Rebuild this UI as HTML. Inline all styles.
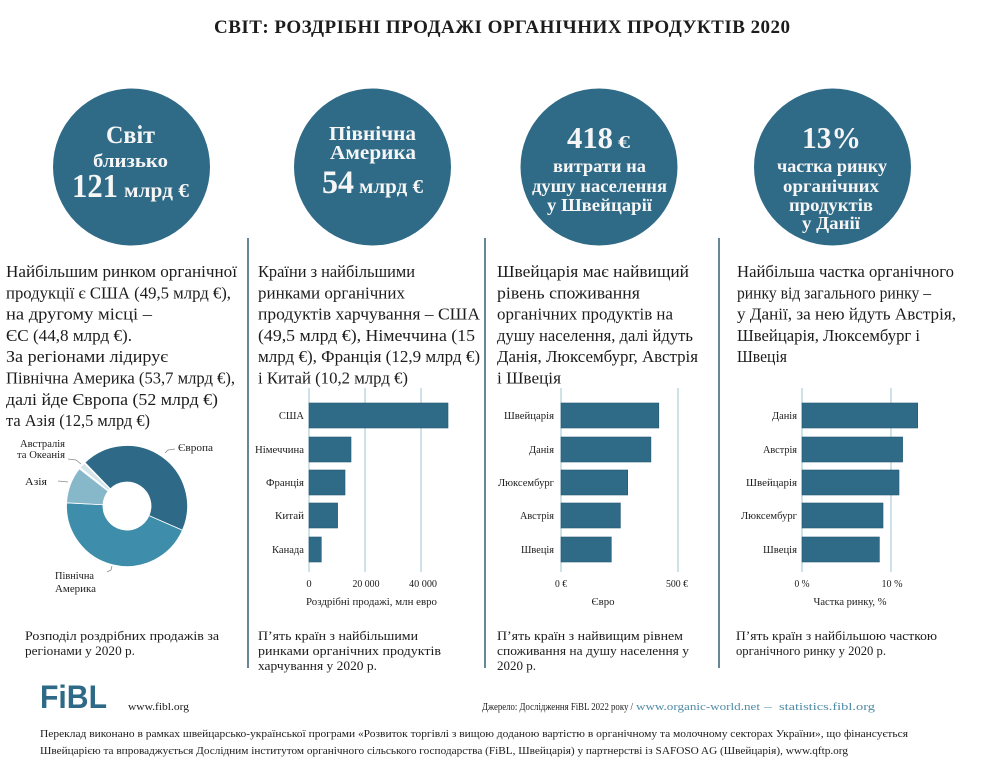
<!DOCTYPE html>
<html>
<head>
<meta charset="utf-8">
<style>
html,body{margin:0;padding:0;background:#fff;}
svg{display:block;}
text{font-family:"Liberation Serif","DejaVu Serif",serif;fill:#1c1c1c;}
.w{fill:#f6f6f6;font-weight:bold;}
.b{font-size:17px;}
.c{font-size:13px;}
.l{font-size:11px;}
.t{font-size:10.5px;}
.f{font-size:11px;}
.s{font-size:10px;}
</style>
</head>
<body>
<svg width="1000" height="759" viewBox="0 0 1000 759" xmlns="http://www.w3.org/2000/svg">
<rect width="1000" height="759" fill="#fff"/>

<!-- Title -->
<text x="214" y="33" font-size="19" font-weight="bold" textLength="576" lengthAdjust="spacing">СВІТ:  РОЗДРІБНІ  ПРОДАЖІ  ОРГАНІЧНИХ  ПРОДУКТІВ  2020</text>

<!-- Circles -->
<circle cx="131.5" cy="167" r="78.5" fill="#2f6a87"/>
<circle cx="372.5" cy="167" r="78.5" fill="#2f6a87"/>
<circle cx="599" cy="167" r="78.5" fill="#2f6a87"/>
<circle cx="832.5" cy="167" r="78.5" fill="#2f6a87"/>

<!-- Circle 1 -->
<text class="w" x="106" y="143" font-size="25" textLength="49" lengthAdjust="spacingAndGlyphs">Світ</text>
<text class="w" x="93" y="167" font-size="19" textLength="75" lengthAdjust="spacingAndGlyphs">близько</text>
<text class="w" x="72" y="197" font-size="34" textLength="46" lengthAdjust="spacingAndGlyphs">121</text>
<text class="w" x="124" y="197" font-size="20" textLength="65" lengthAdjust="spacingAndGlyphs">млрд €</text>

<!-- Circle 2 -->
<text class="w" x="329" y="140" font-size="20" textLength="87" lengthAdjust="spacingAndGlyphs">Північна</text>
<text class="w" x="330" y="159" font-size="20" textLength="86" lengthAdjust="spacingAndGlyphs">Америка</text>
<text class="w" x="322" y="193" font-size="33" textLength="32" lengthAdjust="spacingAndGlyphs">54</text>
<text class="w" x="359" y="193" font-size="20" textLength="64" lengthAdjust="spacingAndGlyphs">млрд €</text>

<!-- Circle 3 -->
<text class="w" x="567" y="148" font-size="31" textLength="46" lengthAdjust="spacingAndGlyphs">418</text>
<text class="w" x="618" y="148" font-size="18" textLength="12" lengthAdjust="spacingAndGlyphs">€</text>
<text class="w" x="553" y="172" font-size="18" textLength="93" lengthAdjust="spacingAndGlyphs">витрати на</text>
<text class="w" x="532" y="192" font-size="18" textLength="135" lengthAdjust="spacingAndGlyphs">душу населення</text>
<text class="w" x="547" y="211" font-size="18" textLength="105" lengthAdjust="spacingAndGlyphs">у Швейцарії</text>

<!-- Circle 4 -->
<text class="w" x="802" y="148" font-size="31" textLength="59" lengthAdjust="spacingAndGlyphs">13%</text>
<text class="w" x="777" y="172" font-size="18" textLength="110" lengthAdjust="spacingAndGlyphs">частка ринку</text>
<text class="w" x="783" y="192" font-size="18" textLength="96" lengthAdjust="spacingAndGlyphs">органічних</text>
<text class="w" x="789" y="211" font-size="18" textLength="84" lengthAdjust="spacingAndGlyphs">продуктів</text>
<text class="w" x="802" y="229" font-size="18" textLength="58" lengthAdjust="spacingAndGlyphs">у Данії</text>

<!-- Dividers -->
<g stroke="#56798b" stroke-width="1.8">
<line x1="248" y1="238" x2="248" y2="668"/>
<line x1="485" y1="238" x2="485" y2="668"/>
<line x1="719" y1="238" x2="719" y2="668"/>
</g>

<!-- Column 1 text -->
<text class="b" x="6" y="277" textLength="231" lengthAdjust="spacingAndGlyphs">Найбільшим ринком органічної</text>
<text class="b" x="6" y="298.3" textLength="225" lengthAdjust="spacingAndGlyphs">продукції є США (49,5 млрд €),</text>
<text class="b" x="6" y="319.6" textLength="146" lengthAdjust="spacingAndGlyphs">на другому місці –</text>
<text class="b" x="6" y="340.9" textLength="126" lengthAdjust="spacingAndGlyphs">ЄС (44,8 млрд €).</text>
<text class="b" x="6" y="362.2" textLength="162" lengthAdjust="spacingAndGlyphs">За регіонами лідирує</text>
<text class="b" x="6" y="383.5" textLength="229" lengthAdjust="spacingAndGlyphs">Північна Америка (53,7 млрд €),</text>
<text class="b" x="6" y="404.8" textLength="212" lengthAdjust="spacingAndGlyphs">далі йде Європа (52 млрд €)</text>
<text class="b" x="6" y="426.1" textLength="144" lengthAdjust="spacingAndGlyphs">та Азія (12,5 млрд €)</text>

<!-- Column 2 text -->
<text class="b" x="258" y="277" textLength="157" lengthAdjust="spacingAndGlyphs">Країни з найбільшими</text>
<text class="b" x="258" y="298.3" textLength="147" lengthAdjust="spacingAndGlyphs">ринками органічних</text>
<text class="b" x="258" y="319.6" textLength="222" lengthAdjust="spacingAndGlyphs">продуктів харчування – США</text>
<text class="b" x="258" y="340.9" textLength="217" lengthAdjust="spacingAndGlyphs">(49,5 млрд €), Німеччина (15</text>
<text class="b" x="258" y="362.2" textLength="222" lengthAdjust="spacingAndGlyphs">млрд €), Франція (12,9 млрд €)</text>
<text class="b" x="258" y="383.5" textLength="150" lengthAdjust="spacingAndGlyphs">і Китай (10,2 млрд €)</text>

<!-- Column 3 text -->
<text class="b" x="497" y="277" textLength="192" lengthAdjust="spacingAndGlyphs">Швейцарія має найвищий</text>
<text class="b" x="497" y="298.3" textLength="143" lengthAdjust="spacingAndGlyphs">рівень споживання</text>
<text class="b" x="497" y="319.6" textLength="176" lengthAdjust="spacingAndGlyphs">органічних продуктів на</text>
<text class="b" x="497" y="340.9" textLength="196" lengthAdjust="spacingAndGlyphs">душу населення, далі йдуть</text>
<text class="b" x="497" y="362.2" textLength="201" lengthAdjust="spacingAndGlyphs">Данія, Люксембург, Австрія</text>
<text class="b" x="497" y="383.5" textLength="64" lengthAdjust="spacingAndGlyphs">і Швеція</text>

<!-- Column 4 text -->
<text class="b" x="737" y="277" textLength="217" lengthAdjust="spacingAndGlyphs">Найбільша частка органічного</text>
<text class="b" x="737" y="298.3" textLength="194" lengthAdjust="spacingAndGlyphs">ринку від загального ринку –</text>
<text class="b" x="737" y="319.6" textLength="219" lengthAdjust="spacingAndGlyphs">у Данії, за нею йдуть Австрія,</text>
<text class="b" x="737" y="340.9" textLength="183" lengthAdjust="spacingAndGlyphs">Швейцарія, Люксембург і</text>
<text class="b" x="737" y="362.2" textLength="50" lengthAdjust="spacingAndGlyphs">Швеція</text>

<!-- Donut -->
<g stroke="#fff" stroke-width="0.8">
<path d="M 84.97 462.48 A 60.5 60.5 0 0 1 182.44 530.22 L 148.99 515.61 A 24 24 0 0 0 110.33 488.74 Z" fill="#2e6a87"/>
<path d="M 182.44 530.22 A 60.5 60.5 0 0 1 66.58 502.83 L 103.03 504.74 A 24 24 0 0 0 148.99 515.61 Z" fill="#3e8eab"/>
<path d="M 66.58 502.83 A 60.5 60.5 0 0 1 79.33 468.75 L 108.09 491.22 A 24 24 0 0 0 103.03 504.74 Z" fill="#86b8ca"/>
<path d="M 80.32 467.52 A 60.5 60.5 0 0 1 84.22 463.22 L 110.03 489.03 A 24 24 0 0 0 108.48 490.73 Z" fill="#d4e4eb"/>
</g>
<g stroke="#8a8a8a" stroke-width="0.8" fill="none">
<polyline points="165,453 168,450 175,449"/>
<polyline points="68,459 76,460 81,464"/>
<polyline points="58,481 68,482"/>
<polyline points="107,572 111,570 112,566"/>
</g>
<text class="l" x="178" y="451" textLength="35" lengthAdjust="spacingAndGlyphs">Європа</text>
<text class="l" x="65" y="447" text-anchor="end" textLength="45" lengthAdjust="spacingAndGlyphs">Австралія</text>
<text class="l" x="65" y="458" text-anchor="end" textLength="48" lengthAdjust="spacingAndGlyphs">та Океанія</text>
<text class="l" x="25" y="485" textLength="22" lengthAdjust="spacingAndGlyphs">Азія</text>
<text class="l" x="55" y="579" textLength="39" lengthAdjust="spacingAndGlyphs">Північна</text>
<text class="l" x="55" y="592" textLength="41" lengthAdjust="spacingAndGlyphs">Америка</text>

<!-- Chart 1 -->
<g stroke="#9ec4d2" stroke-width="1">
<line x1="309" y1="388" x2="309" y2="572"/>
<line x1="365" y1="388" x2="365" y2="572"/>
<line x1="421" y1="388" x2="421" y2="572"/>
</g>
<g fill="#2f6a87" stroke="#245a74" stroke-width="0.6">
<rect x="309" y="403" width="139" height="25"/>
<rect x="309" y="437" width="42" height="25"/>
<rect x="309" y="470" width="36" height="25"/>
<rect x="309" y="503" width="28.6" height="25"/>
<rect x="309" y="537" width="12.3" height="25"/>
</g>
<text class="t" x="304" y="419" text-anchor="end">США</text>
<text class="t" x="304" y="453" text-anchor="end" textLength="49" lengthAdjust="spacingAndGlyphs">Німеччина</text>
<text class="t" x="304" y="486" text-anchor="end" textLength="38" lengthAdjust="spacingAndGlyphs">Франція</text>
<text class="t" x="304" y="519" text-anchor="end" textLength="29" lengthAdjust="spacingAndGlyphs">Китай</text>
<text class="t" x="304" y="553" text-anchor="end" textLength="32" lengthAdjust="spacingAndGlyphs">Канада</text>
<text class="t" x="309" y="587" text-anchor="middle">0</text>
<text class="t" x="366" y="587" text-anchor="middle" textLength="27" lengthAdjust="spacingAndGlyphs">20 000</text>
<text class="t" x="423" y="587" text-anchor="middle" textLength="28" lengthAdjust="spacingAndGlyphs">40 000</text>
<text class="t" x="371.5" y="605" text-anchor="middle" textLength="131" lengthAdjust="spacingAndGlyphs">Роздрібні продажі, млн евро</text>

<!-- Chart 2 -->
<g stroke="#9ec4d2" stroke-width="1">
<line x1="561" y1="388" x2="561" y2="572"/>
<line x1="678" y1="388" x2="678" y2="572"/>
</g>
<g fill="#2f6a87" stroke="#245a74" stroke-width="0.6">
<rect x="561" y="403" width="97.8" height="25"/>
<rect x="561" y="437" width="89.9" height="25"/>
<rect x="561" y="470" width="66.7" height="25"/>
<rect x="561" y="503" width="59.4" height="25"/>
<rect x="561" y="537" width="50.3" height="25"/>
</g>
<text class="t" x="554" y="419" text-anchor="end" textLength="50" lengthAdjust="spacingAndGlyphs">Швейцарія</text>
<text class="t" x="554" y="453" text-anchor="end" textLength="25" lengthAdjust="spacingAndGlyphs">Данія</text>
<text class="t" x="554" y="486" text-anchor="end" textLength="56" lengthAdjust="spacingAndGlyphs">Люксембург</text>
<text class="t" x="554" y="519" text-anchor="end" textLength="34" lengthAdjust="spacingAndGlyphs">Австрія</text>
<text class="t" x="554" y="553" text-anchor="end" textLength="33" lengthAdjust="spacingAndGlyphs">Швеція</text>
<text class="t" x="561" y="587" text-anchor="middle" textLength="12" lengthAdjust="spacingAndGlyphs">0 €</text>
<text class="t" x="677" y="587" text-anchor="middle" textLength="22" lengthAdjust="spacingAndGlyphs">500 €</text>
<text class="t" x="603" y="605" text-anchor="middle" textLength="23" lengthAdjust="spacingAndGlyphs">Євро</text>

<!-- Chart 3 -->
<g stroke="#9ec4d2" stroke-width="1">
<line x1="802" y1="388" x2="802" y2="572"/>
<line x1="891" y1="388" x2="891" y2="572"/>
</g>
<g fill="#2f6a87" stroke="#245a74" stroke-width="0.6">
<rect x="802" y="403" width="115.7" height="25"/>
<rect x="802" y="437" width="100.6" height="25"/>
<rect x="802" y="470" width="97" height="25"/>
<rect x="802" y="503" width="81" height="25"/>
<rect x="802" y="537" width="77.4" height="25"/>
</g>
<text class="t" x="797" y="419" text-anchor="end" textLength="25" lengthAdjust="spacingAndGlyphs">Данія</text>
<text class="t" x="797" y="453" text-anchor="end" textLength="34" lengthAdjust="spacingAndGlyphs">Австрія</text>
<text class="t" x="797" y="486" text-anchor="end" textLength="51" lengthAdjust="spacingAndGlyphs">Швейцарія</text>
<text class="t" x="797" y="519" text-anchor="end" textLength="56" lengthAdjust="spacingAndGlyphs">Люксембург</text>
<text class="t" x="797" y="553" text-anchor="end" textLength="34" lengthAdjust="spacingAndGlyphs">Швеція</text>
<text class="t" x="802" y="587" text-anchor="middle" textLength="15" lengthAdjust="spacingAndGlyphs">0 %</text>
<text class="t" x="892" y="587" text-anchor="middle" textLength="21" lengthAdjust="spacingAndGlyphs">10 %</text>
<text class="t" x="850" y="605" text-anchor="middle" textLength="73" lengthAdjust="spacingAndGlyphs">Частка ринку, %</text>

<!-- Captions -->
<text class="c" x="25" y="640" textLength="194" lengthAdjust="spacingAndGlyphs">Розподіл роздрібних продажів за</text>
<text class="c" x="25" y="655" textLength="110" lengthAdjust="spacingAndGlyphs">регіонами у 2020 р.</text>

<text class="c" x="258" y="640" textLength="160" lengthAdjust="spacingAndGlyphs">П’ять країн з найбільшими</text>
<text class="c" x="258" y="655" textLength="183" lengthAdjust="spacingAndGlyphs">ринками органічних продуктів</text>
<text class="c" x="258" y="670" textLength="119" lengthAdjust="spacingAndGlyphs">харчування у 2020 р.</text>

<text class="c" x="497" y="640" textLength="186" lengthAdjust="spacingAndGlyphs">П’ять країн з найвищим рівнем</text>
<text class="c" x="497" y="655" textLength="192" lengthAdjust="spacingAndGlyphs">споживання на душу населення у</text>
<text class="c" x="497" y="670" textLength="39" lengthAdjust="spacingAndGlyphs">2020 р.</text>

<text class="c" x="736" y="640" textLength="201" lengthAdjust="spacingAndGlyphs">П’ять країн з найбільшою часткою</text>
<text class="c" x="736" y="655" textLength="150" lengthAdjust="spacingAndGlyphs">органічного ринку у 2020 р.</text>

<!-- Footer -->
<text x="40" y="708" font-weight="bold" font-size="32" textLength="67" lengthAdjust="spacingAndGlyphs" style="font-family:'Liberation Sans','DejaVu Sans',sans-serif;fill:#2e6a87;">FiBL</text>
<text class="f" x="128" y="710" textLength="61" lengthAdjust="spacingAndGlyphs">www.fibl.org</text>

<text class="s" x="482" y="710" textLength="151" lengthAdjust="spacingAndGlyphs">Джерело: Дослідження FiBL 2022 року /</text>
<text class="s" x="636" y="710" textLength="124" lengthAdjust="spacingAndGlyphs" style="fill:#4f8aa6;">www.organic-world.net</text>
<text class="s" x="764" y="710" textLength="8" lengthAdjust="spacingAndGlyphs" style="fill:#4f8aa6;">–</text>
<text class="s" x="779" y="710" textLength="96" lengthAdjust="spacingAndGlyphs" style="fill:#4f8aa6;">statistics.fibl.org</text>

<text class="f" x="40" y="737" textLength="868" lengthAdjust="spacingAndGlyphs">Переклад виконано в рамках швейцарсько-української програми «Розвиток торгівлі з вищою доданою вартістю в органічному та молочному секторах України», що фінансується</text>
<text class="f" x="40" y="754" textLength="808" lengthAdjust="spacingAndGlyphs">Швейцарією та впроваджується Дослідним інститутом органічного сільського господарства (FiBL, Швейцарія) у партнерстві із SAFOSO AG (Швейцарія), www.qftp.org</text>
</svg>
</body>
</html>
